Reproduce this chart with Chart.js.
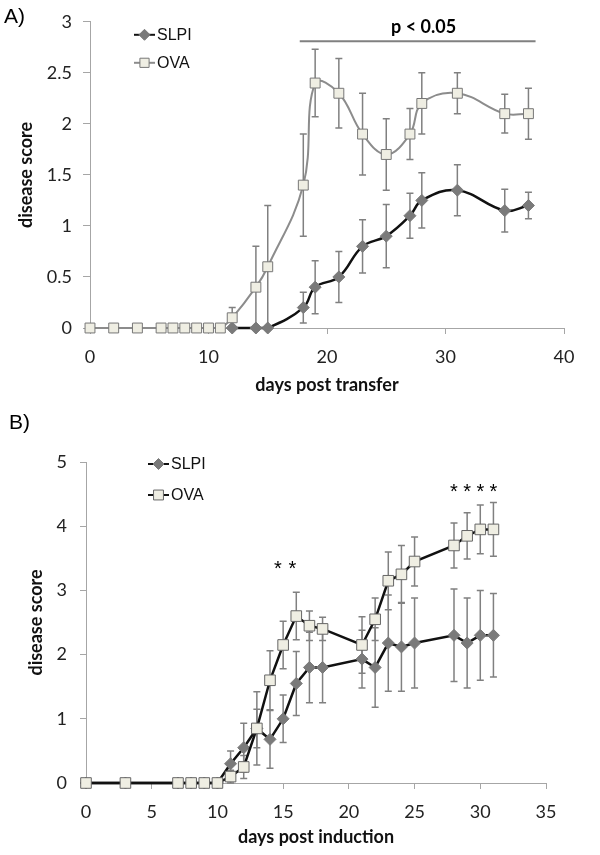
<!DOCTYPE html>
<html>
<head>
<meta charset="utf-8">
<script src="https://cdn.jsdelivr.net/npm/chart.js@4.4.1/dist/chart.umd.min.js"></script>
<style>
  body { margin: 0; background: #fff; }
  canvas { display: block; }
</style>
</head>
<body>
<canvas id="chartA" width="600" height="400"></canvas>
<canvas id="chartB" width="600" height="455"></canvas>
<script>
// Panel A - days post transfer
const daysA_OVA = [0, 2, 4, 6, 7, 8, 9, 10, 11, 12, 14, 15, 18, 19, 21, 23, 25, 27, 28, 31, 35, 37];
const ovaA = [0, 0, 0, 0, 0, 0, 0, 0, 0, 0.1, 0.4, 0.6, 1.4, 2.4, 2.3, 1.9, 1.7, 1.9, 2.2, 2.3, 2.1, 2.1];
const ovaA_err = [0, 0, 0, 0, 0, 0, 0, 0, 0, 0.1, 0.4, 0.6, 0.5, 0.33, 0.34, 0.4, 0.35, 0.25, 0.3, 0.2, 0.19, 0.25];
const daysA_SLPI = [12, 14, 15, 18, 19, 21, 23, 25, 27, 28, 31, 35, 37];
const slpiA = [0, 0, 0, 0.2, 0.4, 0.5, 0.8, 0.9, 1.1, 1.25, 1.35, 1.15, 1.2];
const slpiA_err = [0, 0, 0, 0.15, 0.26, 0.25, 0.26, 0.31, 0.22, 0.27, 0.25, 0.21, 0.13];
const pRangeA = [17.7, 37.6];
const pLevelA = 2.81;
const pTextA = "p < 0.05";

// Panel B - days post induction
const daysB = [0, 3, 7, 8, 9, 10, 11, 12, 13, 14, 15, 16, 17, 18, 21, 22, 23, 24, 25, 28, 29, 30, 31];
const ovaB = [0, 0, 0, 0, 0, 0, 0.1, 0.25, 0.85, 1.6, 2.15, 2.6, 2.45, 2.4, 2.15, 2.55, 3.15, 3.25, 3.45, 3.7, 3.85, 3.95, 3.95];
const ovaB_err = [0, 0, 0, 0, 0, 0, 0.1, 0.18, 0.57, 0.46, 0.37, 0.37, 0.23, 0.18, 0.44, 0.33, 0.45, 0.45, 0.38, 0.35, 0.36, 0.38, 0.42];
const slpiB = [0, 0, 0, 0, 0, 0, 0.3, 0.55, 0.85, 0.68, 1.0, 1.55, 1.8, 1.8, 1.93, 1.8, 2.18, 2.12, 2.18, 2.3, 2.18, 2.3, 2.3];
const slpiB_err = [0, 0, 0, 0, 0, 0, 0.2, 0.38, 0.3, 0.45, 0.37, 0.5, 0.55, 0.55, 0.45, 0.62, 0.75, 0.69, 0.7, 0.72, 0.7, 0.7, 0.65];
const starDaysB = [14.6, 15.7, 28, 29, 30, 31];
const starLevelB = [3.37, 3.37, 4.57, 4.57, 4.57, 4.57];

const toPoints = (xs, ys) => xs.map((x, i) => ({ x, y: ys[i] }));

const SQUARE_FILL = "#efeee3";
const SQUARE_EDGE = "#666";
const DIAMOND = "#7a7a7a";
const ERR = "#808080";
const AXIS = "#a6a6a6";
const TICK_FONT = { family: "Lato", size: 18 };
const TITLE_FONT = { family: "Lato", size: 18, weight: "bold" };

// error bars under the markers
const errorBars = {
  id: "errorBars",
  beforeDatasetsDraw(chart) {
    const { ctx, scales: { x, y } } = chart;
    ctx.save();
    ctx.strokeStyle = ERR;
    ctx.lineWidth = 1.5;
    chart.data.datasets.forEach(ds => {
      if (!ds.errors) return;
      ds.data.forEach((p, i) => {
        const e = ds.errors[i];
        if (!e) return;
        const px = x.getPixelForValue(p.x);
        const top = y.getPixelForValue(p.y + e);
        const bot = y.getPixelForValue(p.y - e);
        ctx.beginPath();
        ctx.moveTo(px, top); ctx.lineTo(px, bot);
        ctx.moveTo(px - 3.5, top); ctx.lineTo(px + 3.5, top);
        ctx.moveTo(px - 3.5, bot); ctx.lineTo(px + 3.5, bot);
        ctx.stroke();
      });
    });
    ctx.restore();
  }
};

// panel label, legend and significance marks
const decor = {
  id: "decor",
  afterDraw(chart, args, opts) {
    const { ctx, chartArea, scales: { x, y } } = chart;
    ctx.save();
    ctx.fillStyle = "#000";
    ctx.font = "21px 'Liberation Sans'";
    ctx.textBaseline = "middle";
    ctx.textAlign = "left";
    ctx.fillText(opts.panel, opts.panelPos[0], opts.panelPos[1]);

    // legend
    chart.data.datasets.forEach((ds, i) => {
      const ly = chartArea.top + opts.legendY[i];
      const lx = chartArea.left + opts.legendX;
      const cx = lx + 10.5;
      const r = ds.pointRadius - 0.5;
      ctx.strokeStyle = ds.borderColor;
      ctx.lineWidth = 2;
      ctx.beginPath();
      ctx.moveTo(lx, ly); ctx.lineTo(lx + 21, ly);
      ctx.stroke();
      ctx.fillStyle = ds.pointBackgroundColor;
      ctx.strokeStyle = ds.pointBorderColor;
      ctx.beginPath();
      if (ds.pointStyle === "rect") {
        const s = r * Math.SQRT1_2;
        ctx.rect(cx - s, ly - s, 2 * s, 2 * s);
      } else {
        ctx.moveTo(cx - r, ly); ctx.lineTo(cx, ly - r);
        ctx.lineTo(cx + r, ly); ctx.lineTo(cx, ly + r);
        ctx.closePath();
      }
      ctx.fill(); ctx.lineWidth = 1; ctx.stroke();
      ctx.fillStyle = "#111";
      ctx.font = "16px 'Liberation Sans'";
      ctx.fillText(ds.label, lx + 23, ly + 1);
    });

    // significance
    if (opts.pRange) {
      const py = y.getPixelForValue(opts.pLevel);
      ctx.strokeStyle = "#808080";
      ctx.lineWidth = 2;
      ctx.beginPath();
      ctx.moveTo(x.getPixelForValue(opts.pRange[0]), py);
      ctx.lineTo(x.getPixelForValue(opts.pRange[1]), py);
      ctx.stroke();
      ctx.fillStyle = "#000";
      ctx.font = "bold 18px Lato";
      ctx.textAlign = "center";
      ctx.fillText(opts.pText, x.getPixelForValue((opts.pRange[0] + opts.pRange[1]) / 2 + 0.5), py - 14);
    }
    if (opts.stars) {
      ctx.fillStyle = "#000";
      ctx.font = "20px 'Liberation Sans'";
      ctx.textAlign = "center";
      opts.stars.forEach((d, i) => {
        ctx.fillText("*", x.getPixelForValue(d), y.getPixelForValue(opts.starLevels[i]) + 3);
      });
    }
    ctx.restore();
  }
};

function makeOptions(cfg) {
  return {
    responsive: false,
    animation: false,
    devicePixelRatio: 1,
    layout: { padding: cfg.padding },
    plugins: {
      legend: { display: false },
      tooltip: { enabled: false },
      decor: cfg.decor
    },
    scales: {
      x: {
        type: "linear",
        min: 0, max: cfg.xMax,
        afterFit: s => { s.height = 72; },
        border: { display: true, color: AXIS, width: 1 },
        grid: { drawOnChartArea: false, drawTicks: true, tickLength: 6, color: AXIS },
        ticks: { stepSize: cfg.xStep, color: "#222", font: TICK_FONT, padding: 12 },
        title: { display: true, text: cfg.xTitle, color: "#111", font: TITLE_FONT, padding: { top: 0, bottom: cfg.xTitlePad } }
      },
      y: {
        min: 0, max: cfg.yMax,
        afterFit: s => { s.width = cfg.yWidth; },
        border: { display: true, color: AXIS, width: 1 },
        grid: { drawOnChartArea: false, drawTicks: true, tickLength: cfg.yTick, color: AXIS },
        ticks: { stepSize: cfg.yStep, color: "#222", font: TICK_FONT, padding: cfg.yPad, callback: v => String(v) },
        title: { display: true, text: "disease score", color: "#111", font: TITLE_FONT, padding: { top: cfg.yTitlePad, bottom: 0 } }
      }
    }
  };
}

new Chart(document.getElementById("chartA"), {
  type: "line",
  data: {
    datasets: [
      {
        label: "SLPI", order: 1,
        data: toPoints(daysA_SLPI, slpiA), errors: slpiA_err,
        borderColor: "#111", borderWidth: 2.5, tension: 0.4,
        pointStyle: "rectRot", pointRadius: 6, pointBackgroundColor: DIAMOND, pointBorderColor: DIAMOND,
        pointBorderWidth: 1, clip: false
      },
      {
        label: "OVA", order: 0,
        data: toPoints(daysA_OVA, ovaA), errors: ovaA_err,
        borderColor: "#8c8c8c", borderWidth: 2, tension: 0.4,
        pointStyle: "rect", pointRadius: 7, pointBackgroundColor: SQUARE_FILL, pointBorderColor: "#777",
        pointBorderWidth: 1, clip: false
      }
    ]
  },
  options: makeOptions({
    padding: { top: 21, right: 36, left: 0, bottom: 0 },
    xMax: 40, xStep: 10, xTitle: "days post transfer", xTitlePad: 4,
    yMax: 3, yStep: 0.5, yWidth: 90, yTick: 7, yPad: 11, yTitlePad: 15,
    decor: {
      panel: "A)", panelPos: [4, 17], legendX: 44, legendY: [13, 41],
      pRange: pRangeA, pLevel: pLevelA, pText: pTextA
    }
  }),
  plugins: [errorBars, decor]
});

new Chart(document.getElementById("chartB"), {
  type: "line",
  data: {
    datasets: [
      {
        label: "SLPI", order: 1,
        data: toPoints(daysB, slpiB), errors: slpiB_err,
        borderColor: "#111", borderWidth: 2.5, tension: 0,
        pointStyle: "rectRot", pointRadius: 6, pointBackgroundColor: DIAMOND, pointBorderColor: DIAMOND,
        pointBorderWidth: 1, clip: false
      },
      {
        label: "OVA", order: 0,
        data: toPoints(daysB, ovaB), errors: ovaB_err,
        borderColor: "#111", borderWidth: 2.5, tension: 0,
        pointStyle: "rect", pointRadius: 7.5, pointBackgroundColor: SQUARE_FILL, pointBorderColor: SQUARE_EDGE,
        pointBorderWidth: 1, clip: false
      }
    ]
  },
  options: makeOptions({
    padding: { top: 62, right: 54, left: 0, bottom: 0 },
    xMax: 35, xStep: 5, xTitle: "days post induction", xTitlePad: 7,
    yMax: 5, yStep: 1, yWidth: 86, yTick: 6, yPad: 13, yTitlePad: 25,
    decor: {
      panel: "B)", panelPos: [9, 23], legendX: 62, legendY: [2, 33],
      stars: starDaysB, starLevels: starLevelB
    }
  }),
  plugins: [errorBars, decor]
});
</script>
</body>
</html>
